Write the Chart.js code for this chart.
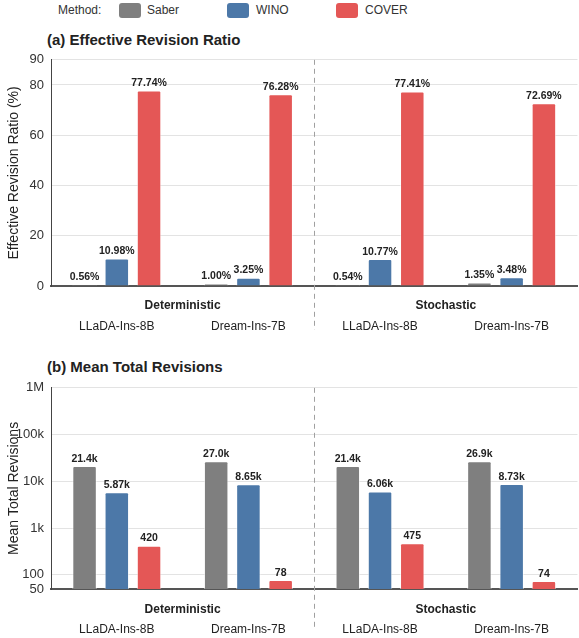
<!DOCTYPE html>
<html><head><meta charset="utf-8">
<script src="https://cdn.jsdelivr.net/npm/chart.js@4/dist/chart.umd.min.js"></script>
<style>
body{margin:0;width:579px;height:638px;overflow:hidden;background:#fff;font-family:"Liberation Sans",Arial,sans-serif;position:relative;color:#222}
.abs{position:absolute;white-space:nowrap}
.lg{font-size:12px;line-height:16px;color:#333}
.sw{width:22px;height:15px;border-radius:3px}
.ttl{font-size:15px;font-weight:bold;line-height:18px;color:#222}
canvas{position:absolute;left:0}
</style></head><body>
<div class="abs lg" style="left:58px;top:2px">Method:</div>
<div class="abs sw" id="sw0" style="left:119px;top:3px"></div>
<div class="abs lg" id="lb0" style="left:147px;top:2px"></div>
<div class="abs sw" id="sw1" style="left:227px;top:3px"></div>
<div class="abs lg" id="lb1" style="left:256px;top:2px"></div>
<div class="abs sw" id="sw2" style="left:336px;top:3px"></div>
<div class="abs lg" id="lb2" style="left:365px;top:2px"></div>
<div class="abs ttl" style="left:47px;top:31px">(a) Effective Revision Ratio</div>
<div class="abs ttl" style="left:47px;top:358px">(b) Mean Total Revisions</div>
<div style="position:absolute;left:0;top:45px;width:582px;height:295px"><canvas id="c1"></canvas></div>
<div style="position:absolute;left:0;top:373px;width:582px;height:265px"><canvas id="c2"></canvas></div>
<script>
// ---- data ----
const methods = ['Saber', 'WINO', 'COVER'];
const models = ['LLaDA-Ins-8B', 'Dream-Ins-7B', 'LLaDA-Ins-8B', 'Dream-Ins-7B'];
const groups = ['Deterministic', 'Stochastic'];
// (a) Effective Revision Ratio (%)
const ratioSaber = [0.56, 1.00, 0.54, 1.35];
const ratioWino  = [10.98, 3.25, 10.77, 3.48];
const ratioCover = [77.74, 76.28, 77.41, 72.69];
// (b) Mean Total Revisions
const revSaber = [21400, 27000, 21400, 26900];
const revWino  = [5870, 8650, 6060, 8730];
const revCover = [420, 78, 475, 74];
const ticksA = [0, 20, 40, 60, 80, 90];
const ticksB = [50, 100, 1000, 10000, 100000, 1000000];
const ticksBLabels = ['50', '100', '1k', '10k', '100k', '1M'];

const colors = ['#7f7f7f', '#4c78a8', '#e45756'];
methods.forEach((m,i)=>{
  document.getElementById('sw'+i).style.background = colors[i];
  document.getElementById('lb'+i).textContent = m;
});
const FONT = '"Liberation Sans", Arial, sans-serif';
Chart.defaults.font.family = FONT;
Chart.defaults.color = '#333';

const extrasPlugin = {
  id: 'extras',
  afterDatasetsDraw(chart, args, opts) {
    const ctx = chart.ctx;
    const x = chart.scales.x;
    const ca = chart.chartArea;
    ctx.save();
    // value labels
    ctx.font = 'bold 10.5px ' + FONT;
    ctx.fillStyle = '#222';
    ctx.textAlign = 'center';
    ctx.textBaseline = 'bottom';
    chart.data.datasets.forEach((ds, di) => {
      chart.getDatasetMeta(di).data.forEach((bar, i) => {
        ctx.fillText(opts.fmt(ds.data[i]), bar.x, bar.y - 2);
      });
    });
    // group labels
    ctx.font = 'bold 12px ' + FONT;
    ctx.textBaseline = 'middle';
    groups.forEach((g, gi) => {
      const cx = (x.getPixelForValue(gi*2) + x.getPixelForValue(gi*2+1)) / 2;
      ctx.fillText(g, cx, ca.bottom + opts.groupOffset);
    });
    // separator
    const sx = (x.getPixelForValue(1) + x.getPixelForValue(2)) / 2;
    ctx.strokeStyle = '#a0a0a0';
    ctx.lineWidth = 1;
    ctx.setLineDash([5, 4]);
    ctx.beginPath();
    ctx.moveTo(Math.round(sx)+0.5, ca.top);
    ctx.lineTo(Math.round(sx)+0.5, ca.bottom + opts.sepExtent);
    ctx.stroke();
    ctx.restore();
  }
};

function makeDatasets(arrs) {
  return methods.map((m, i) => ({
    label: m, data: arrs[i], backgroundColor: colors[i],
    borderColor: 'rgba(255,255,255,0.55)', borderWidth: 1,
    borderRadius: 2, borderSkipped: 'start',
    categoryPercentage: 0.735, barPercentage: 0.76
  }));
}

function baseOptions(yOpts, xHeight, fmt, groupOffset, sepExtent) {
  return {
    responsive: true, maintainAspectRatio: false, animation: false,
    layout: { padding: { top: 12, left: 0, right: 0, bottom: 0 } },
    plugins: { legend: { display: false }, tooltip: { enabled: false },
      extras: { fmt, groupOffset, sepExtent } },
    scales: {
      x: {
        grid: { display: false, drawTicks: false },
        border: { display: true, color: '#555', width: 2 },
        ticks: { padding: 33, font: { size: 12 }, color: '#222', maxRotation: 0 },
        afterFit(s) { s.height = xHeight; }
      },
      y: yOpts
    }
  };
}

new Chart(document.getElementById('c1'), {
  type: 'bar',
  data: { labels: models, datasets: makeDatasets([ratioSaber, ratioWino, ratioCover]) },
  options: baseOptions({
    min: 0, max: 90,
    grid: { color: '#e3e3e3', drawTicks: false },
    border: { display: true, color: '#444', width: 1 },
    ticks: { padding: 7, font: { size: 13 }, color: '#333' },
    afterBuildTicks(s) { s.ticks = ticksA.map(v => ({ value: v })); },
    title: { display: true, text: 'Effective Revision Ratio (%)', font: { size: 14 }, color: '#222', padding: { top: 6, bottom: 0 } },
    afterFit(s) { s.width = 51; }
  }, 54, v => v.toFixed(2) + '%', 20, 44),
  plugins: [extrasPlugin]
});

new Chart(document.getElementById('c2'), {
  type: 'bar',
  data: { labels: models, datasets: makeDatasets([revSaber, revWino, revCover]) },
  options: baseOptions({
    type: 'logarithmic', min: 50, max: 1000000,
    grid: { color: '#e3e3e3', drawTicks: false },
    border: { display: true, color: '#444', width: 1 },
    ticks: { padding: 7, font: { size: 13 }, color: '#333',
      callback(v) { const k = ticksB.indexOf(v); return k >= 0 ? ticksBLabels[k] : ''; } },
    afterBuildTicks(s) { s.ticks = ticksB.map(v => ({ value: v })); },
    title: { display: true, text: 'Mean Total Revisions', font: { size: 14 }, color: '#222', padding: { top: 6, bottom: 0 } },
    afterFit(s) { s.width = 51; }
  }, 49, v => v >= 1000 ? (v / 1000).toPrecision(3) + 'k' : String(Math.round(v)), 21, 40),
  plugins: [extrasPlugin]
});
</script>
</body></html>
